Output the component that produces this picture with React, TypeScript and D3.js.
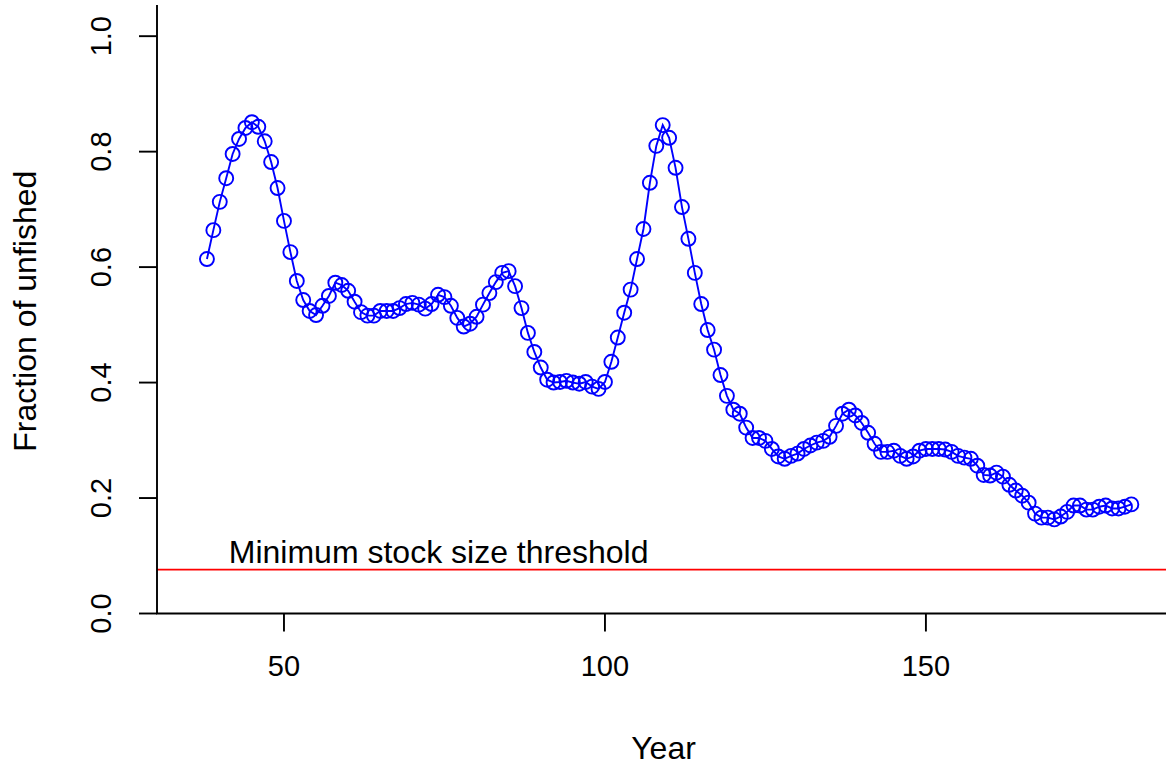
import * as d3 from 'd3';

// stock trajectory, one value per year starting at firstYear
const firstYear = 38;
const fraction = [
  0.614, 0.664, 0.713, 0.754, 0.796, 0.822, 0.841, 0.851, 0.843, 0.818,
  0.782, 0.737, 0.680, 0.626, 0.576, 0.543, 0.524, 0.517, 0.533, 0.550,
  0.573, 0.569, 0.559, 0.540, 0.522, 0.516, 0.516, 0.524, 0.524, 0.524,
  0.529, 0.536, 0.538, 0.535, 0.528, 0.536, 0.552, 0.548, 0.533, 0.512,
  0.497, 0.502, 0.514, 0.535, 0.555, 0.574, 0.590, 0.593, 0.567, 0.529,
  0.486, 0.453, 0.426, 0.405, 0.400, 0.401, 0.403, 0.400, 0.398, 0.401,
  0.393, 0.389, 0.401, 0.436, 0.478, 0.521, 0.561, 0.614, 0.666, 0.746,
  0.810, 0.846, 0.824, 0.772, 0.704, 0.649, 0.590, 0.536, 0.491, 0.457,
  0.413, 0.377, 0.353, 0.346, 0.322, 0.304, 0.304, 0.299, 0.285, 0.272,
  0.268, 0.273, 0.277, 0.285, 0.291, 0.296, 0.299, 0.306, 0.325, 0.346,
  0.353, 0.343, 0.330, 0.313, 0.294, 0.280, 0.280, 0.282, 0.273, 0.268,
  0.272, 0.282, 0.285, 0.285, 0.285, 0.284, 0.280, 0.273, 0.270, 0.268,
  0.256, 0.240, 0.239, 0.244, 0.237, 0.223, 0.213, 0.204, 0.192, 0.173,
  0.166, 0.166, 0.163, 0.168, 0.176, 0.187, 0.187, 0.180, 0.180, 0.185,
  0.187, 0.182, 0.182, 0.185, 0.189,
];
const threshold = 0.076;
const thresholdLabel = 'Minimum stock size threshold';
const xTicks = [50, 100, 150];
const yTicks = [0, 0.2, 0.4, 0.6, 0.8, 1.0];

const W = 1166;
const H = 765;
const FONT = '"Liberation Sans", Arial, Helvetica, sans-serif';
const FS_TICK = 29;
const FS_LAB = 32;
const LW = 1.9;

export default function App() {
  const left = 157;
  const right = 1166;
  const top = 5;
  const bottom = 613.5;

  const x = d3.scaleLinear().domain([30.22, 187.4]).range([left, right]);
  const y = d3.scaleLinear().domain([0, 1.054]).range([bottom, top]);

  const pts = fraction.map((v, i) => ({ year: firstYear + i, v }));
  const line = d3
    .line<{ year: number; v: number }>()
    .x((d) => x(d.year))
    .y((d) => y(d.v));

  const tickLen = 18;

  return (
    <div style={{ position: 'fixed', left: 0, top: 0 }}>
      <svg width={W} height={H} style={{ display: 'block', background: '#fff' }}>
        {/* threshold */}
        <line
          x1={left}
          x2={right}
          y1={y(threshold)}
          y2={y(threshold)}
          stroke="#ff0000"
          strokeWidth={LW}
        />
        <text
          x={x(41.4)}
          y={y(threshold) - 7}
          fontFamily={FONT}
          fontSize={FS_LAB}
          fill="#000"
        >
          {thresholdLabel}
        </text>

        {/* series */}
        <path d={line(pts) ?? ''} fill="none" stroke="#0000ff" strokeWidth={LW} />
        {pts.map((d) => (
          <circle
            key={d.year}
            cx={x(d.year)}
            cy={y(d.v)}
            r={7}
            fill="none"
            stroke="#0000ff"
            strokeWidth={LW}
          />
        ))}

        {/* L-shaped box */}
        <path
          d={`M${left},${top}V${bottom}H${right}`}
          fill="none"
          stroke="#000"
          strokeWidth={LW}
        />

        {/* x axis */}
        {xTicks.map((t) => (
          <g key={t}>
            <line
              x1={x(t)}
              x2={x(t)}
              y1={bottom}
              y2={bottom + tickLen}
              stroke="#000"
              strokeWidth={LW}
            />
            <text
              x={x(t)}
              y={676}
              textAnchor="middle"
              fontFamily={FONT}
              fontSize={FS_TICK}
              fill="#000"
            >
              {t}
            </text>
          </g>
        ))}
        <text
          x={(left + right) / 2 + 2}
          y={759}
          textAnchor="middle"
          fontFamily={FONT}
          fontSize={FS_LAB}
          fill="#000"
        >
          Year
        </text>

        {/* y axis */}
        {yTicks.map((t) => (
          <g key={t}>
            <line
              x1={left - tickLen}
              x2={left}
              y1={y(t)}
              y2={y(t)}
              stroke="#000"
              strokeWidth={LW}
            />
            <text
              transform={`translate(111,${y(t)}) rotate(-90)`}
              textAnchor="middle"
              fontFamily={FONT}
              fontSize={FS_TICK}
              fill="#000"
            >
              {t.toFixed(1)}
            </text>
          </g>
        ))}
        <text
          transform={`translate(36,${(top + bottom) / 2 + 2}) rotate(-90)`}
          textAnchor="middle"
          fontFamily={FONT}
          fontSize={FS_LAB}
          fill="#000"
        >
          Fraction of unfished
        </text>
      </svg>
    </div>
  );
}
